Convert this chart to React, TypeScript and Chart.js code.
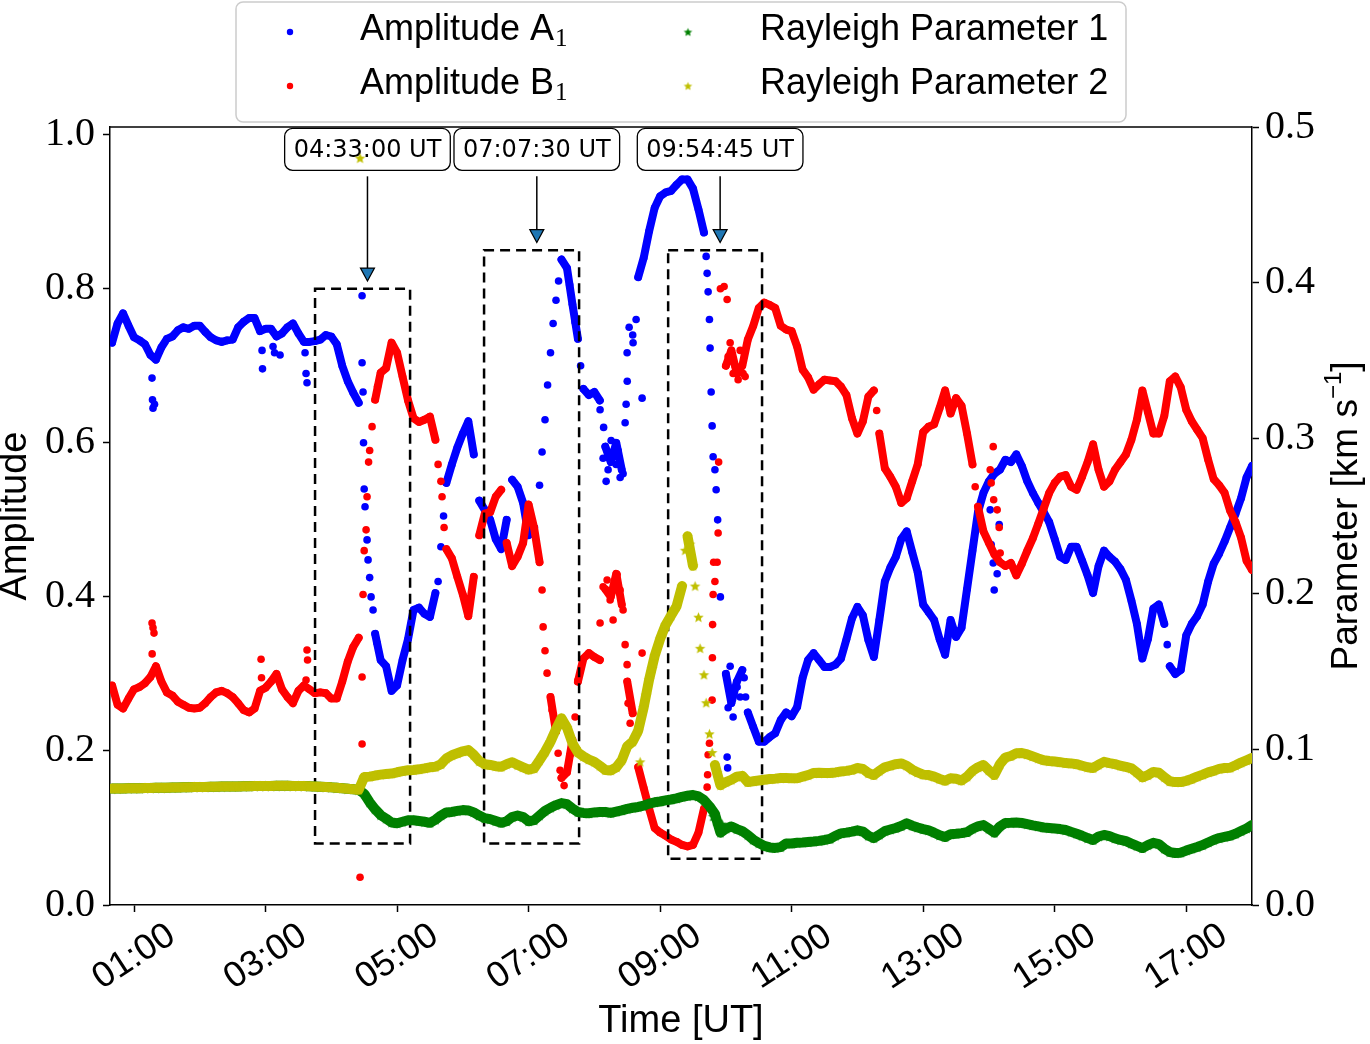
import React, { useEffect, useRef } from 'react';
import { Chart, registerables } from 'chart.js';

Chart.register(...registerables);

const W = 1370;
const H = 1044;

// Sampling grid: one value every 5 minutes from 00:40 UT to 18:00 UT
const START_HOUR = 40 / 60;
const STEP_HOUR = 5 / 60;

const ampA1 = [
  // 00:40
  0.73, 0.755, 0.768, 0.752,
  // 01:00
  0.737, 0.733, 0.728, 0.714, 0.708, 0.724, 0.735, 0.738, 0.746, 0.75, 0.748, 0.752,
  // 02:00
  0.752, 0.744, 0.737, 0.733, 0.731, 0.733, 0.734, 0.75, 0.757, 0.762, 0.762, 0.745,
  // 03:00
  0.748, 0.748, 0.738, 0.742, 0.75, 0.755, 0.742, 0.731, 0.731, 0.732, 0.734, 0.74,
  // 04:00
  0.738, 0.728, 0.7, 0.68, 0.665, 0.652, 0.54, 0.425, 0.352, 0.318, 0.31, 0.278,
  // 05:00
  0.285, 0.318, 0.345, 0.383, 0.386, 0.378, 0.374, 0.405, 0.465, 0.548, 0.572, 0.594,
  // 06:00
  0.612, 0.628, 0.585, 0.525, 0.513, 0.5, 0.475, 0.462, 0.5, 0.552, 0.543, 0.522,
  // 07:00
  0.48, 0.49, 0.545, 0.63, 0.717, 0.785, 0.838, 0.827, 0.78, 0.735, 0.67, 0.662,
  // 08:00
  0.666, 0.655, 0.595, 0.575, 0.6, 0.565, 0.68, 0.74, 0.815, 0.84, 0.875, 0.905,
  // 09:00
  0.92, 0.925, 0.927, 0.935, 0.942, 0.942, 0.93, 0.903, 0.873, 0.76, 0.565, 0.4,
  // 10:00
  0.3, 0.262, 0.29, 0.305, 0.25, 0.231, 0.212, 0.212, 0.218, 0.223, 0.24, 0.25,
  // 11:00
  0.245, 0.257, 0.295, 0.318, 0.327, 0.318, 0.309, 0.309, 0.312, 0.32, 0.345, 0.372,
  // 12:00
  0.387, 0.376, 0.344, 0.322, 0.37, 0.42, 0.438, 0.452, 0.475, 0.485, 0.458, 0.432,
  // 13:00
  0.39, 0.38, 0.37, 0.345, 0.325, 0.37, 0.348, 0.36, 0.41, 0.46, 0.51, 0.535,
  // 14:00
  0.55, 0.56, 0.565, 0.578, 0.575, 0.585, 0.57, 0.55, 0.535, 0.522, 0.51, 0.497,
  // 15:00
  0.475, 0.452, 0.448, 0.465, 0.465, 0.447, 0.428, 0.405, 0.44, 0.46, 0.452, 0.446,
  // 16:00
  0.436, 0.422, 0.395, 0.365, 0.32, 0.345, 0.385, 0.39, 0.365, 0.31, 0.3, 0.305,
  // 17:00
  0.35, 0.365, 0.375, 0.39, 0.42, 0.443, 0.456, 0.472, 0.49, 0.508, 0.528, 0.555,
  // 18:00
  0.57,
];

const ampB1 = [
  // 00:40
  0.285, 0.26, 0.255, 0.268,
  // 01:00
  0.28, 0.283, 0.288, 0.296, 0.31, 0.29, 0.276, 0.272, 0.264, 0.26, 0.256, 0.255,
  // 02:00
  0.256, 0.262, 0.27, 0.276, 0.278, 0.275, 0.27, 0.262, 0.253, 0.25, 0.255, 0.278,
  // 03:00
  0.282, 0.29, 0.3, 0.28, 0.27, 0.262, 0.278, 0.285, 0.28, 0.275, 0.276, 0.275,
  // 04:00
  0.268, 0.268, 0.29, 0.316, 0.335, 0.347, 0.46, 0.59, 0.656, 0.691, 0.697, 0.73,
  // 05:00
  0.717, 0.686, 0.655, 0.632, 0.627, 0.63, 0.634, 0.604, 0.55, 0.462, 0.45, 0.426,
  // 06:00
  0.403, 0.375, 0.426, 0.48, 0.508, 0.51, 0.53, 0.539, 0.47, 0.44, 0.452, 0.47,
  // 07:00
  0.52, 0.49, 0.445, 0.33, 0.27, 0.225, 0.165, 0.172, 0.214, 0.29, 0.32, 0.327,
  // 08:00
  0.322, 0.318, 0.41, 0.4, 0.43, 0.39, 0.29, 0.249, 0.179, 0.152, 0.125, 0.1,
  // 09:00
  0.094, 0.09, 0.085, 0.082, 0.078, 0.076, 0.078, 0.094, 0.125, 0.21, 0.42, 0.8,
  // 10:00
  0.7, 0.72, 0.69, 0.7, 0.734, 0.752, 0.775, 0.782, 0.779, 0.775, 0.752, 0.747,
  // 11:00
  0.745, 0.725, 0.695, 0.685, 0.669, 0.676, 0.682, 0.681, 0.68, 0.673, 0.662, 0.632,
  // 12:00
  0.612, 0.628, 0.66, 0.668, 0.612, 0.567, 0.556, 0.543, 0.522, 0.528, 0.55, 0.572,
  // 13:00
  0.614, 0.621, 0.624, 0.645, 0.668, 0.638, 0.658, 0.648, 0.612, 0.572, 0.517, 0.485,
  // 14:00
  0.47, 0.455, 0.445, 0.44, 0.444, 0.428, 0.443, 0.46, 0.476, 0.495, 0.515, 0.535,
  // 15:00
  0.548, 0.556, 0.558, 0.543, 0.539, 0.556, 0.575, 0.598, 0.565, 0.543, 0.55, 0.565,
  // 16:00
  0.575, 0.585, 0.604, 0.63, 0.668, 0.64, 0.612, 0.612, 0.635, 0.68, 0.686, 0.672,
  // 17:00
  0.643, 0.628, 0.617, 0.606, 0.578, 0.553, 0.545, 0.535, 0.512, 0.497, 0.477, 0.447,
  // 18:00
  0.435,
];

const rayleigh1 = [
  // 00:40
  0.0748, 0.0748, 0.0749, 0.075,
  // 01:00
  0.075, 0.075, 0.0752, 0.0752, 0.0753, 0.0753, 0.0754, 0.0755, 0.0755, 0.0756, 0.0757, 0.0758,
  // 02:00
  0.0758, 0.0759, 0.076, 0.076, 0.0761, 0.0761, 0.0762, 0.0762, 0.0763, 0.0763, 0.0764, 0.0764,
  // 03:00
  0.0765, 0.0765, 0.0766, 0.0766, 0.0766, 0.0765, 0.0765, 0.0764, 0.0763, 0.0762, 0.076, 0.0758,
  // 04:00
  0.0756, 0.0753, 0.075, 0.0747, 0.0744, 0.074, 0.0715, 0.066, 0.0615, 0.0578, 0.0555, 0.053,
  // 05:00
  0.0525, 0.0535, 0.0545, 0.0545, 0.054, 0.0535, 0.0528, 0.0548, 0.0575, 0.0595, 0.0598, 0.0605,
  // 06:00
  0.061, 0.0608, 0.0595, 0.0575, 0.0558, 0.0552, 0.054, 0.0528, 0.0538, 0.0565, 0.0575, 0.0565,
  // 07:00
  0.0538, 0.0545, 0.0575, 0.0605, 0.0625, 0.0642, 0.0655, 0.0648, 0.062, 0.0598, 0.0592, 0.059,
  // 08:00
  0.0595, 0.0598, 0.0598, 0.0592, 0.06, 0.0608, 0.0618, 0.0625, 0.063, 0.0638, 0.0652, 0.066,
  // 09:00
  0.0665, 0.0672, 0.0678, 0.0685, 0.0695, 0.0702, 0.0707, 0.0698, 0.0675, 0.0635, 0.0585, 0.0465,
  // 10:00
  0.049, 0.0505, 0.0488, 0.0475, 0.045, 0.042, 0.0398, 0.038, 0.037, 0.0367, 0.0372, 0.0395,
  // 11:00
  0.0395, 0.04, 0.0402, 0.0405, 0.0408, 0.0412, 0.0418, 0.0425, 0.0445, 0.046, 0.0465, 0.0472,
  // 12:00
  0.048, 0.0472, 0.0445, 0.043, 0.0452, 0.0475, 0.0485, 0.0495, 0.0508, 0.0525, 0.051, 0.0498,
  // 13:00
  0.0488, 0.048, 0.0465, 0.0448, 0.0437, 0.0455, 0.0458, 0.0462, 0.0468, 0.049, 0.0505, 0.0514,
  // 14:00
  0.049, 0.0465, 0.0505, 0.0527, 0.0528, 0.053, 0.0527, 0.052, 0.0512, 0.0505, 0.0498, 0.0495,
  // 15:00
  0.0492, 0.0488, 0.0482, 0.047, 0.0458, 0.0445, 0.043, 0.0418, 0.044, 0.045, 0.0442, 0.0428,
  // 16:00
  0.0418, 0.041, 0.0395, 0.038, 0.0366, 0.0385, 0.04, 0.0392, 0.0362, 0.034, 0.0334, 0.0336,
  // 17:00
  0.035, 0.0362, 0.0373, 0.0385, 0.0402, 0.0418, 0.043, 0.0438, 0.0445, 0.0458, 0.0475, 0.0492,
  // 18:00
  0.0514,
];

const rayleigh2 = [
  // 00:40
  0.0748, 0.0748, 0.0749, 0.075,
  // 01:00
  0.075, 0.075, 0.0752, 0.0752, 0.0753, 0.0753, 0.0754, 0.0755, 0.0755, 0.0756, 0.0757, 0.0758,
  // 02:00
  0.0758, 0.0759, 0.076, 0.076, 0.0761, 0.0761, 0.0762, 0.0762, 0.0763, 0.0763, 0.0764, 0.0764,
  // 03:00
  0.0765, 0.0765, 0.0766, 0.0766, 0.0766, 0.0765, 0.0765, 0.0764, 0.0763, 0.0762, 0.076, 0.0758,
  // 04:00
  0.0756, 0.0753, 0.075, 0.0747, 0.0744, 0.074, 0.0822, 0.0825, 0.0832, 0.0838, 0.0842, 0.0845,
  // 05:00
  0.0853, 0.086, 0.0866, 0.0868, 0.0872, 0.0878, 0.0885, 0.0888, 0.0905, 0.0942, 0.0962, 0.0975,
  // 06:00
  0.0988, 0.0996, 0.0965, 0.0925, 0.0905, 0.09, 0.0892, 0.0888, 0.0905, 0.0918, 0.09, 0.0885,
  // 07:00
  0.087, 0.0878, 0.093, 0.0985, 0.105, 0.113, 0.12, 0.114, 0.104, 0.098, 0.0955, 0.0935,
  // 08:00
  0.092, 0.0895, 0.0868, 0.0865, 0.0885, 0.093, 0.102, 0.105, 0.112, 0.127, 0.145, 0.16,
  // 09:00
  0.171, 0.18, 0.186, 0.192, 0.205, 0.237, 0.218, 0.185, 0.148, 0.11, 0.09, 0.077,
  // 10:00
  0.079, 0.0805, 0.0825, 0.083, 0.079, 0.0795, 0.08, 0.0805, 0.081, 0.0812, 0.0816, 0.0816,
  // 11:00
  0.0815, 0.0815, 0.0825, 0.0835, 0.0848, 0.085, 0.0848, 0.0848, 0.0852, 0.0858, 0.0862, 0.0868,
  // 12:00
  0.088, 0.0875, 0.0848, 0.0835, 0.0862, 0.0885, 0.0895, 0.0905, 0.091, 0.0895, 0.087, 0.0852,
  // 13:00
  0.0838, 0.0835, 0.0825, 0.081, 0.0798, 0.0815, 0.0812, 0.08, 0.0825, 0.0862, 0.0885, 0.09,
  // 14:00
  0.0865, 0.0835, 0.0905, 0.0948, 0.0958, 0.0975, 0.0977, 0.0968, 0.0955, 0.0942, 0.093, 0.0925,
  // 15:00
  0.0922, 0.0918, 0.0912, 0.091, 0.0905, 0.0895, 0.0885, 0.088, 0.0902, 0.092, 0.0912, 0.0905,
  // 16:00
  0.0895, 0.0888, 0.0878, 0.0852, 0.082, 0.0835, 0.0855, 0.085, 0.0822, 0.0795, 0.079, 0.079,
  // 17:00
  0.0798, 0.081, 0.0825, 0.0838, 0.0852, 0.0862, 0.0875, 0.088, 0.0882, 0.0898, 0.0915, 0.093,
  // 18:00
  0.0945,
];

// Isolated samples between grid steps (hour UT, value)
const ampA1ExtraHours = [
  1.274, 1.281, 1.289, 1.312, 2.947, 2.954, 3.114, 3.137, 3.221, 3.601, 3.616, 3.631,
  4.468, 4.468, 4.483, 4.49, 4.513, 4.544, 4.559, 4.605, 4.635, 4.696, 5.624, 5.707,
  7.205, 7.289, 7.373, 7.456, 7.624, 7.707, 7.791,
  8.087, 8.133, 8.141, 8.179, 8.209, 8.255, 8.285, 8.331, 8.361, 8.392, 8.437, 8.468,
  8.483, 8.498, 8.529, 8.589, 8.635, 8.726,
  9.7, 9.715, 9.73, 9.76, 9.776, 9.791, 9.806, 9.852, 9.875,
  10.019, 10.027, 10.034, 10.065, 10.11, 10.171, 10.217, 10.278, 10.3,
  14.019, 14.034, 14.065, 14.08, 14.125, 14.156, 16.711,
];
const ampA1ExtraValues = [
  0.684, 0.656, 0.645, 0.65, 0.72, 0.696, 0.725, 0.717, 0.714, 0.717, 0.69, 0.678,
  0.791, 0.704, 0.666, 0.6, 0.517, 0.474, 0.448, 0.4, 0.383, 0.34, 0.42, 0.505,
  0.588, 0.675, 0.755, 0.81, 0.805, 0.757, 0.7,
  0.643, 0.58, 0.62, 0.55, 0.565, 0.603, 0.588, 0.572, 0.59, 0.555, 0.56, 0.626,
  0.65, 0.717, 0.75, 0.73, 0.76, 0.658,
  0.842, 0.82, 0.796, 0.723, 0.666, 0.622, 0.582, 0.539, 0.5,
  0.192, 0.178, 0.256, 0.31, 0.244, 0.283, 0.27, 0.295, 0.27,
  0.513, 0.468, 0.444, 0.409, 0.43, 0.494, 0.338,
];

const ampB1ExtraHours = [
  1.274, 1.289, 1.304, 1.276, 2.932, 2.939, 3.616, 3.631, 3.639,
  4.437, 4.468, 4.468, 4.483, 4.529, 4.544, 4.567, 4.62, 4.703,
  5.624, 5.684, 5.715,
  7.205, 7.221, 7.281, 7.357, 7.449, 7.479, 7.54, 7.631, 7.707, 7.753,
  8.087, 8.133, 8.194, 8.24, 8.285, 8.346, 8.392, 8.437, 8.468, 8.498, 8.513, 8.544, 8.726,
  9.715, 9.722, 9.73, 9.791, 9.795, 9.798, 9.806, 9.814, 9.867, 9.882, 9.89,
  9.973, 10.019, 10.034, 10.065, 10.11, 10.141, 10.186, 10.217, 10.262, 10.293,
  12.293, 13.791,
  14.019, 14.034, 14.065, 14.072, 14.125, 14.156, 14.171,
];
const ampB1ExtraValues = [
  0.366, 0.36, 0.353, 0.326, 0.319, 0.295, 0.292, 0.331, 0.318,
  0.036, 0.296, 0.209, 0.403, 0.487, 0.53, 0.575, 0.621, 0.673,
  0.572, 0.53, 0.49,
  0.409, 0.361, 0.301, 0.253, 0.197, 0.175, 0.155, 0.195, 0.244, 0.292,
  0.366, 0.413, 0.422, 0.396, 0.37, 0.429, 0.409, 0.383, 0.338, 0.312, 0.262, 0.236, 0.327,
  0.153, 0.169, 0.195, 0.266, 0.321, 0.364, 0.403, 0.445, 0.445, 0.483, 0.575,
  0.803, 0.786, 0.712, 0.73, 0.69, 0.7, 0.682, 0.72, 0.69, 0.686,
  0.642, 0.543,
  0.565, 0.548, 0.595, 0.526, 0.513, 0.49, 0.457,
];

const rayleigh1ExtraHours = [9.806, 9.852, 9.943];
const rayleigh1ExtraValues = [0.057, 0.054, 0.052];

const rayleigh2ExtraHours = [4.437, 8.696, 8.787, 8.878, 9.046, 9.38, 9.456, 9.532, 9.608, 9.7, 9.791, 9.867, 9.943];
const rayleigh2ExtraValues = [0.48, 0.092, 0.135, 0.152, 0.175, 0.228, 0.232, 0.205, 0.165, 0.13, 0.098, 0.085, 0.08];

// Series labels and colours
const seriesNames = ['Amplitude A', 'Amplitude B', 'Rayleigh Parameter 1', 'Rayleigh Parameter 2'];
const seriesSubscripts = ['1', '1', '', ''];
const seriesColors = ['#0000ff', '#ff0000', '#008000', '#bfbf00'];

// Axis ticks
const hourTicks = [1, 3, 5, 7, 9, 11, 13, 15, 17];
const ampTicks = [0, 0.2, 0.4, 0.6, 0.8, 1.0];
const paramTicks = [0, 0.1, 0.2, 0.3, 0.4, 0.5];

// Event markers and analysis windows
const eventHours = [4.55, 7.125, 9.9125];
const eventLabels = ['04:33:00 UT', '07:07:30 UT', '09:54:45 UT'];
const eventArrowTips = [0.81, 0.86, 0.86];
const eventLabelLevel = 0.981;
const windowStart = [3.753, 6.323, 9.122];
const windowEnd = [5.198, 7.768, 10.55];
const windowTop = [0.8, 0.85, 0.85];
const windowBottom = [0.08, 0.08, 0.06];

function gridPoints(values: number[]) {
  return values.map((v, i) => ({ x: START_HOUR + i * STEP_HOUR, y: v }));
}

function extraPoints(hours: number[], values: number[]) {
  return hours.map((h, i) => ({ x: h, y: values[i] }));
}

function makeStar(color: string, outer: number) {
  const size = Math.ceil(outer * 2 + 2);
  const c = document.createElement('canvas');
  c.width = size;
  c.height = size;
  const g = c.getContext('2d') as CanvasRenderingContext2D;
  g.translate(size / 2, size / 2 + outer * 0.1);
  g.beginPath();
  for (let k = 0; k < 10; k++) {
    const r = k % 2 === 0 ? outer : outer * 0.45;
    const a = -Math.PI / 2 + (k * Math.PI) / 5;
    g.lineTo(r * Math.cos(a), r * Math.sin(a));
  }
  g.closePath();
  g.fillStyle = color;
  g.fill();
  return c;
}

function roundRectPath(ctx: CanvasRenderingContext2D, x: number, y: number, w: number, h: number, r: number) {
  ctx.beginPath();
  ctx.moveTo(x + r, y);
  ctx.lineTo(x + w - r, y);
  ctx.arcTo(x + w, y, x + w, y + r, r);
  ctx.lineTo(x + w, y + h - r);
  ctx.arcTo(x + w, y + h, x + w - r, y + h, r);
  ctx.lineTo(x + r, y + h);
  ctx.arcTo(x, y + h, x, y + h - r, r);
  ctx.lineTo(x, y + r);
  ctx.arcTo(x, y, x + r, y, r);
  ctx.closePath();
}

function drawWindowsAndEvents(chart: any) {
  const ctx: CanvasRenderingContext2D = chart.ctx;
  const xs = chart.scales.x;
  const ys = chart.scales.y;
  ctx.save();
  ctx.strokeStyle = '#000';
  ctx.lineWidth = 2.5;
  ctx.setLineDash([10, 6]);
  for (let k = 0; k < windowStart.length; k++) {
    const x0 = xs.getPixelForValue(windowStart[k]);
    const x1 = xs.getPixelForValue(windowEnd[k]);
    const y0 = ys.getPixelForValue(windowTop[k]);
    const y1 = ys.getPixelForValue(windowBottom[k]);
    ctx.strokeRect(x0, y0, x1 - x0, y1 - y0);
  }
  ctx.setLineDash([]);

  ctx.font = '24px "DejaVu Sans"';
  for (let k = 0; k < eventHours.length; k++) {
    const ex = xs.getPixelForValue(eventHours[k]);
    const ly = ys.getPixelForValue(eventLabelLevel);
    const tipY = ys.getPixelForValue(eventArrowTips[k]);
    const bw = ctx.measureText(eventLabels[k]).width + 18;
    const bh = 42;
    const headLen = 13;
    const headHalf = 7;
    ctx.strokeStyle = '#000';
    ctx.lineWidth = 1.5;
    ctx.beginPath();
    ctx.moveTo(ex, ly + bh / 2 + 6);
    ctx.lineTo(ex, tipY - headLen);
    ctx.stroke();
    ctx.beginPath();
    ctx.moveTo(ex - headHalf, tipY - headLen);
    ctx.lineTo(ex + headHalf, tipY - headLen);
    ctx.lineTo(ex, tipY);
    ctx.closePath();
    ctx.fillStyle = '#1f77b4';
    ctx.fill();
    ctx.lineWidth = 1.2;
    ctx.stroke();

    roundRectPath(ctx, ex - bw / 2, ly - bh / 2, bw, bh, 8);
    ctx.fillStyle = '#ffffff';
    ctx.fill();
    ctx.lineWidth = 1.3;
    ctx.stroke();
    ctx.fillStyle = '#000';
    ctx.textAlign = 'center';
    ctx.textBaseline = 'middle';
    ctx.fillText(eventLabels[k], ex, ly + 1);
  }
  ctx.restore();
}

function drawFrameAndText(chart: any, stars: HTMLCanvasElement[]) {
  const ctx: CanvasRenderingContext2D = chart.ctx;
  const area = chart.chartArea;
  const xs = chart.scales.x;
  ctx.save();

  // top spine
  ctx.strokeStyle = '#000';
  ctx.lineWidth = 1.5;
  ctx.beginPath();
  ctx.moveTo(area.left, area.top);
  ctx.lineTo(area.right, area.top);
  ctx.stroke();

  // rotated hour labels
  ctx.fillStyle = '#000';
  ctx.font = '36px "Liberation Sans"';
  ctx.textAlign = 'center';
  ctx.textBaseline = 'middle';
  hourTicks.forEach((h) => {
    const px = xs.getPixelForValue(h);
    ctx.save();
    ctx.translate(px, area.bottom + 52);
    ctx.rotate((-33 * Math.PI) / 180);
    ctx.fillText(String(h).padStart(2, '0') + ':00', 0, 0);
    ctx.restore();
  });

  // axis titles
  const midY = (area.top + area.bottom) / 2;
  ctx.font = '38px "Liberation Sans"';
  ctx.fillText('Time [UT]', (area.left + area.right) / 2, 1022);
  ctx.save();
  ctx.translate(16, midY);
  ctx.rotate(-Math.PI / 2);
  ctx.fillText('Amplitude', 0, 0);
  ctx.restore();

  ctx.save();
  ctx.translate(1347, midY);
  ctx.rotate(-Math.PI / 2);
  const partA = 'Parameter [km s';
  const partSup = '\u22121';
  const partB = ']';
  ctx.font = '37px "Liberation Sans"';
  const wA = ctx.measureText(partA).width;
  const wB = ctx.measureText(partB).width;
  ctx.font = '24px "Liberation Sans"';
  const wS = ctx.measureText(partSup).width;
  let cx = -(wA + wS + wB) / 2;
  ctx.textAlign = 'left';
  ctx.font = '37px "Liberation Sans"';
  ctx.fillText(partA, cx, 0);
  cx += wA;
  ctx.font = '24px "Liberation Sans"';
  ctx.fillText(partSup, cx, -13);
  cx += wS;
  ctx.font = '37px "Liberation Sans"';
  ctx.fillText(partB, cx, 0);
  ctx.restore();

  // legend
  roundRectPath(ctx, 236, 2, 890, 120, 7);
  ctx.fillStyle = 'rgba(255,255,255,0.85)';
  ctx.fill();
  ctx.strokeStyle = '#cccccc';
  ctx.lineWidth = 1.5;
  ctx.stroke();
  const markerX = [290, 688];
  const textX = [360, 760];
  const rowY = [32, 86];
  seriesNames.forEach((name, k) => {
    const col = Math.floor(k / 2);
    const row = k % 2;
    const my = rowY[row];
    if (k < 2) {
      ctx.beginPath();
      ctx.arc(markerX[col], my, 3.2, 0, Math.PI * 2);
      ctx.fillStyle = seriesColors[k];
      ctx.fill();
    } else {
      const s = stars[k - 2];
      ctx.drawImage(s, markerX[col] - s.width / 2, my - s.height / 2);
    }
    ctx.fillStyle = '#000';
    ctx.textAlign = 'left';
    ctx.textBaseline = 'middle';
    ctx.font = '36px "Liberation Sans"';
    ctx.fillText(name, textX[col], my - 2);
    if (seriesSubscripts[k]) {
      const w = ctx.measureText(name).width;
      ctx.font = '25px "Liberation Serif"';
      ctx.fillText(seriesSubscripts[k], textX[col] + w + 1, my + 7);
    }
  });

  ctx.restore();
}

// consecutive samples further apart than this (in pixels) are shown as separate dots
const AMP_JOIN_PX = 40;
const PARAM_JOIN_PX = 30;

export default function App() {
  const canvasRef = useRef<HTMLCanvasElement | null>(null);

  useEffect(() => {
    const canvas = canvasRef.current;
    if (!canvas) return;
    const starGreen = makeStar(seriesColors[2], 5.5);
    const starYellow = makeStar(seriesColors[3], 5.5);
    const legendStars = [makeStar(seriesColors[2], 4.5), makeStar(seriesColors[3], 4.5)];

    const bandStyle = (color: string, order: number, width: number, joinPx: number) => ({
      backgroundColor: color,
      borderColor: color,
      borderWidth: width,
      borderJoinStyle: 'round',
      borderCapStyle: 'round',
      tension: 0,
      pointRadius: 3.8,
      pointBorderWidth: 0,
      pointHoverRadius: 3.8,
      pointStyle: 'circle',
      showLine: true,
      segment: {
        borderColor: (c: any) => (Math.abs(c.p1.y - c.p0.y) > joinPx ? 'rgba(0,0,0,0)' : undefined),
      },
      order,
    });

    const dotStyle = (color: string, order: number) => ({
      backgroundColor: color,
      borderColor: color,
      borderWidth: 0,
      pointRadius: 3.8,
      pointBorderWidth: 0,
      pointHoverRadius: 3.8,
      pointStyle: 'circle',
      showLine: false,
      order,
    });

    const overlay = {
      id: 'overlay',
      beforeDatasetDraw(chart: any, args: any) {
        if (args.index === 4) drawWindowsAndEvents(chart);
      },
      afterDraw(chart: any) {
        drawFrameAndText(chart, legendStars);
      },
    };

    const chart = new Chart(canvas, {
      type: 'scatter',
      data: {
        datasets: [
          {
            label: seriesNames[0] + seriesSubscripts[0],
            data: gridPoints(ampA1),
            yAxisID: 'y',
            ...bandStyle(seriesColors[0], 8, 8, AMP_JOIN_PX),
          },
          {
            label: seriesNames[0] + seriesSubscripts[0],
            data: extraPoints(ampA1ExtraHours, ampA1ExtraValues),
            yAxisID: 'y',
            ...dotStyle(seriesColors[0], 7),
          },
          {
            label: seriesNames[1] + seriesSubscripts[1],
            data: gridPoints(ampB1),
            yAxisID: 'y',
            ...bandStyle(seriesColors[1], 6, 8, AMP_JOIN_PX),
          },
          {
            label: seriesNames[1] + seriesSubscripts[1],
            data: extraPoints(ampB1ExtraHours, ampB1ExtraValues),
            yAxisID: 'y',
            ...dotStyle(seriesColors[1], 5),
          },
          {
            label: seriesNames[2],
            data: gridPoints(rayleigh1),
            yAxisID: 'y2',
            ...bandStyle(seriesColors[2], 4, 10, PARAM_JOIN_PX),
            pointStyle: starGreen,
            pointRadius: 5,
          },
          {
            label: seriesNames[2],
            data: extraPoints(rayleigh1ExtraHours, rayleigh1ExtraValues),
            yAxisID: 'y2',
            ...dotStyle(seriesColors[2], 3),
            pointStyle: starGreen,
            pointRadius: 5,
          },
          {
            label: seriesNames[3],
            data: gridPoints(rayleigh2),
            yAxisID: 'y2',
            ...bandStyle(seriesColors[3], 2, 10, PARAM_JOIN_PX),
            pointStyle: starYellow,
            pointRadius: 5,
          },
          {
            label: seriesNames[3],
            data: extraPoints(rayleigh2ExtraHours, rayleigh2ExtraValues),
            yAxisID: 'y2',
            ...dotStyle(seriesColors[3], 1),
            pointStyle: starYellow,
            pointRadius: 5,
          },
        ],
      } as any,
      options: {
        responsive: false,
        animation: false,
        events: [],
        layout: { padding: { top: 127, left: 0, right: 0, bottom: 0 } },
        plugins: {
          legend: { display: false },
          tooltip: { enabled: false },
          title: { display: false },
        },
        scales: {
          x: {
            type: 'linear',
            position: 'bottom',
            min: 0.635,
            max: 18.0,
            afterBuildTicks: (s: any) => {
              s.ticks = hourTicks.map((v) => ({ value: v }));
            },
            afterFit: (s: any) => {
              s.height = 139;
            },
            ticks: { display: false },
            grid: {
              display: true,
              drawOnChartArea: false,
              drawTicks: true,
              tickLength: 7,
              tickWidth: 1.5,
              tickColor: '#000',
            },
            border: { display: true, color: '#000', width: 1.5 },
          },
          y: {
            type: 'linear',
            position: 'left',
            min: 0,
            max: 1.01,
            afterBuildTicks: (s: any) => {
              s.ticks = ampTicks.map((v) => ({ value: v }));
            },
            afterFit: (s: any) => {
              s.width = 110;
            },
            ticks: {
              color: '#000',
              padding: 8,
              font: { family: '"Liberation Serif"', size: 40 },
              callback: (v: any) => Number(v).toFixed(1),
            },
            grid: {
              display: true,
              drawOnChartArea: false,
              drawTicks: true,
              tickLength: 7,
              tickWidth: 1.5,
              tickColor: '#000',
            },
            border: { display: true, color: '#000', width: 1.5 },
          },
          y2: {
            type: 'linear',
            position: 'right',
            min: 0,
            max: 0.5,
            afterBuildTicks: (s: any) => {
              s.ticks = paramTicks.map((v) => ({ value: v }));
            },
            afterFit: (s: any) => {
              s.width = W - 1252;
            },
            ticks: {
              color: '#000',
              padding: 6,
              font: { family: '"Liberation Serif"', size: 40 },
              callback: (v: any) => Number(v).toFixed(1),
            },
            grid: {
              display: true,
              drawOnChartArea: false,
              drawTicks: true,
              tickLength: 7,
              tickWidth: 1.5,
              tickColor: '#000',
            },
            border: { display: true, color: '#000', width: 1.5 },
          },
        },
      } as any,
      plugins: [overlay],
    });

    return () => chart.destroy();
  }, []);

  return (
    <div style={{ position: 'absolute', left: 0, top: 0, width: W, height: H, background: '#ffffff' }}>
      <canvas ref={canvasRef} width={W} height={H} style={{ display: 'block' }} />
    </div>
  );
}
